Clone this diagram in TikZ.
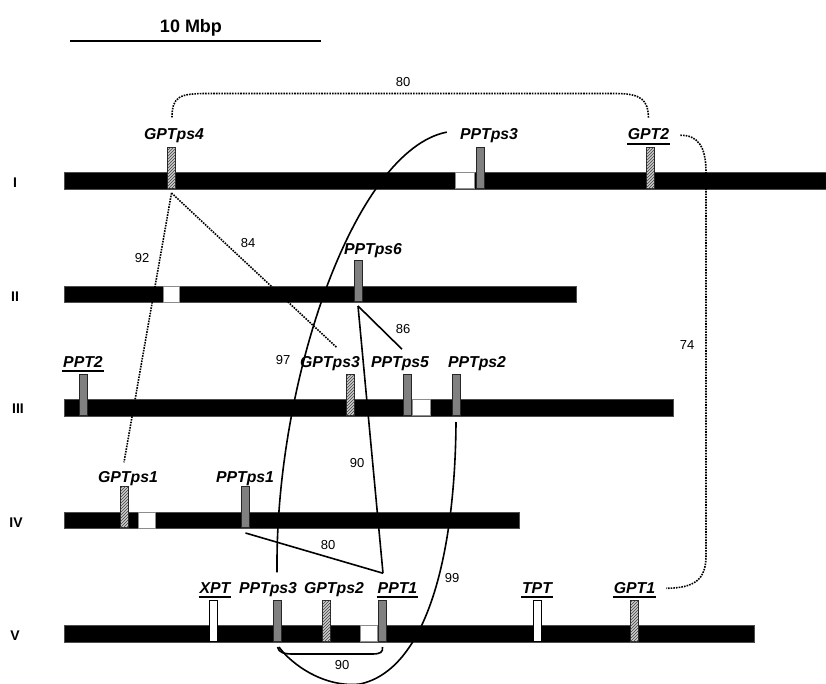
\documentclass[tikz,border=0pt]{standalone}
\usepackage{fontspec}
\setmainfont{Liberation Sans}
\usetikzlibrary{patterns}
\newcommand\myul[1]{\setbox0=\hbox{#1}\rlap{\kern-1pt\rule[-4.6pt]{\dimexpr\wd0+2pt\relax}{1.4pt}}\box0}
\begin{document}
\begin{tikzpicture}[x=1pt,y=-1pt,
  chrom/.style={fill=black, draw=black!70, line width=0.3pt, inner sep=0pt, minimum height=16.5pt, anchor=west},
  wbox/.style={fill=white, draw=black!45, line width=0.5pt, inner sep=0pt, minimum height=16pt},
  mk/.style={inner sep=0pt, minimum width=8pt, minimum height=41pt, anchor=south, draw=black!85, line width=0.6pt},
  pmk/.style={mk, fill=black!50},
  hmk/.style={mk, fill=gray!40, postaction={pattern=north east lines, pattern color=black!75}},
  omk/.style={mk, fill=white, draw=black},
  lab/.style={font=\fontsize{15.8}{18}\selectfont\bfseries\itshape, inner sep=0pt, anchor=base},
  num/.style={font=\fontsize{13}{15}\selectfont, inner sep=0pt},
  rom/.style={font=\fontsize{14}{16}\selectfont\bfseries, inner sep=0pt},
  dot/.style={line width=1.6pt, dash pattern=on 1.6pt off 1.1pt},
  lnk/.style={line width=1.6pt}]
\useasboundingbox (0,0) rectangle (826,684);

% scale bar
\node[font=\fontsize{18}{20}\selectfont\bfseries, inner sep=0pt, anchor=base] (scale) at (191,33) {10 Mbp};
\coordinate (sb1) at (70,41);
\coordinate (sb2) at (321,41);
\draw[line width=2.3pt] (sb1) -- (sb2);

% chromosome names
\node[rom] (r1) at (15,183) {I};
\node[rom] (r2) at (15,296.5) {II};
\node[rom] (r3) at (18,409) {III};
\node[rom] (r4) at (16,523) {IV};
\node[rom] (r5) at (15,636) {V};

% chromosomes
\node[chrom, minimum width=762pt] (chrI) at (64,180.5) {};
\node[chrom, minimum width=512pt] (chrII) at (64,294) {};
\node[chrom, minimum width=609pt] (chrIII) at (64,407.5) {};
\node[chrom, minimum width=455pt] (chrIV) at (64,520) {};
\node[chrom, minimum width=690pt] (chrV) at (64,633.5) {};

% white boxes
\node[wbox, minimum width=19pt] (w1) at (464.5,180.5) {};
\node[wbox, minimum width=16pt] (w2) at (171,294) {};
\node[wbox, minimum width=18pt] (w3) at (421,407.5) {};
\node[wbox, minimum width=17pt] (w4) at (146.5,520) {};
\node[wbox, minimum width=17pt] (w5) at (368.5,633.5) {};

% markers
\node[hmk] (m-gptps4) at (171.5,189) {};
\node[pmk] (m-pptps3a) at (480,189) {};
\node[hmk] (m-gpt2) at (650,189) {};
\node[pmk] (m-pptps6) at (358,302) {};
\node[pmk] (m-ppt2) at (83,416) {};
\node[hmk] (m-gptps3) at (350.5,416) {};
\node[pmk] (m-pptps5) at (407,416) {};
\node[pmk] (m-pptps2) at (456,416) {};
\node[hmk] (m-gptps1) at (124,528) {};
\node[pmk] (m-pptps1) at (245.5,528) {};
\node[omk] (m-xpt) at (213,642) {};
\node[pmk] (m-pptps3b) at (277.5,642) {};
\node[hmk] (m-gptps2) at (326.5,642) {};
\node[pmk] (m-ppt1) at (382.5,642) {};
\node[omk] (m-tpt) at (537,642) {};
\node[hmk] (m-gpt1) at (634,642) {};

% labels
\node[lab] (l-gptps4) at (174,140) {GPTps4};
\node[lab] (l-pptps3a) at (489,140) {PPTps3};
\node[lab] (l-gpt2) at (648.5,140) {\myul{GPT2}};
\node[lab] (l-pptps6) at (373,255) {PPTps6};
\node[lab] (l-ppt2) at (83,367) {\myul{PPT2}};
\node[lab] (l-gptps3) at (330,367) {GPTps3};
\node[lab] (l-pptps5) at (400,367) {PPTps5};
\node[lab] (l-pptps2) at (477,367) {PPTps2};
\node[lab] (l-gptps1) at (128,482) {GPTps1};
\node[lab] (l-pptps1) at (245,482) {PPTps1};
\node[lab] (l-xpt) at (215,593) {\myul{XPT}};
\node[lab] (l-pptps3b) at (268,593) {PPTps3};
\node[lab] (l-gptps2) at (334,593) {GPTps2};
\node[lab] (l-ppt1) at (397.5,593) {\myul{PPT1}};
\node[lab] (l-tpt) at (537,593) {\myul{TPT}};
\node[lab] (l-gpt1) at (634.5,593) {\myul{GPT1}};

% numbers
\node[num] (n80a) at (403,82) {80};
\node[num] (n74) at (687,345) {74};
\node[num] (n92) at (142,258) {92};
\node[num] (n84) at (248,243) {84};
\node[num] (n86) at (403,329) {86};
\node[num] (n97) at (283,360) {97};
\node[num] (n90a) at (357,463) {90};
\node[num] (n80b) at (328,545) {80};
\node[num] (n99) at (452,578) {99};
\node[num] (n90b) at (342,665) {90};

% dotted connectors
\draw[dot] ([xshift=-2pt,yshift=11.3pt]l-gptps4.north) .. controls (172,96) and (180,93.5) .. (208,93.5)
  -- (615,93.5) .. controls (642,93.5) and (648,100) .. ([yshift=10.3pt]l-gpt2.north);
\draw[dot] ([xshift=11pt,yshift=1.5pt]l-gpt2.east) .. controls (698,135) and (706,147) .. (706,172)
  -- (706,556) .. controls (706,580) and (694,588) .. ([xshift=11pt,yshift=1.5pt]l-gpt1.east);
\draw[dot] ([yshift=-4pt]m-gptps4.south) -- ([xshift=-4pt,yshift=8.5pt]l-gptps1.north);
\draw[dot] ([yshift=-4pt]m-gptps4.south) -- ([xshift=7pt,yshift=8pt]l-gptps3.north);

% solid connectors
\draw[lnk] ([yshift=-4pt]m-pptps6.south) -- ([xshift=2pt,yshift=6.7pt]l-pptps5.north);
\draw[lnk] ([yshift=-4pt]m-pptps6.south) -- ([xshift=-14.5pt,yshift=8.7pt]l-ppt1.north);
\draw[lnk] ([yshift=-5pt]m-pptps1.south) -- ([xshift=-14.5pt,yshift=8.7pt]l-ppt1.north);
\draw[lnk] ([xshift=-13pt,yshift=4pt]l-pptps3a.west) .. controls (355,150) and (275,380) .. ([xshift=9pt,yshift=9.5pt]l-pptps3b.north);
\draw[lnk] ([yshift=-6pt]m-pptps2.south) .. controls (455,560) and (425,670) .. (360,684)
  .. controls (325,688) and (292,665) .. ([xshift=1.5pt,yshift=-5pt]m-pptps3b.south);
\draw[lnk] ([yshift=-5pt]m-pptps3b.south) .. controls (279,653) and (284,654) .. (294,654)
  -- (372,654) .. controls (381,654) and (383,652) .. ([yshift=-5pt]m-ppt1.south);
\end{tikzpicture}
\end{document}
